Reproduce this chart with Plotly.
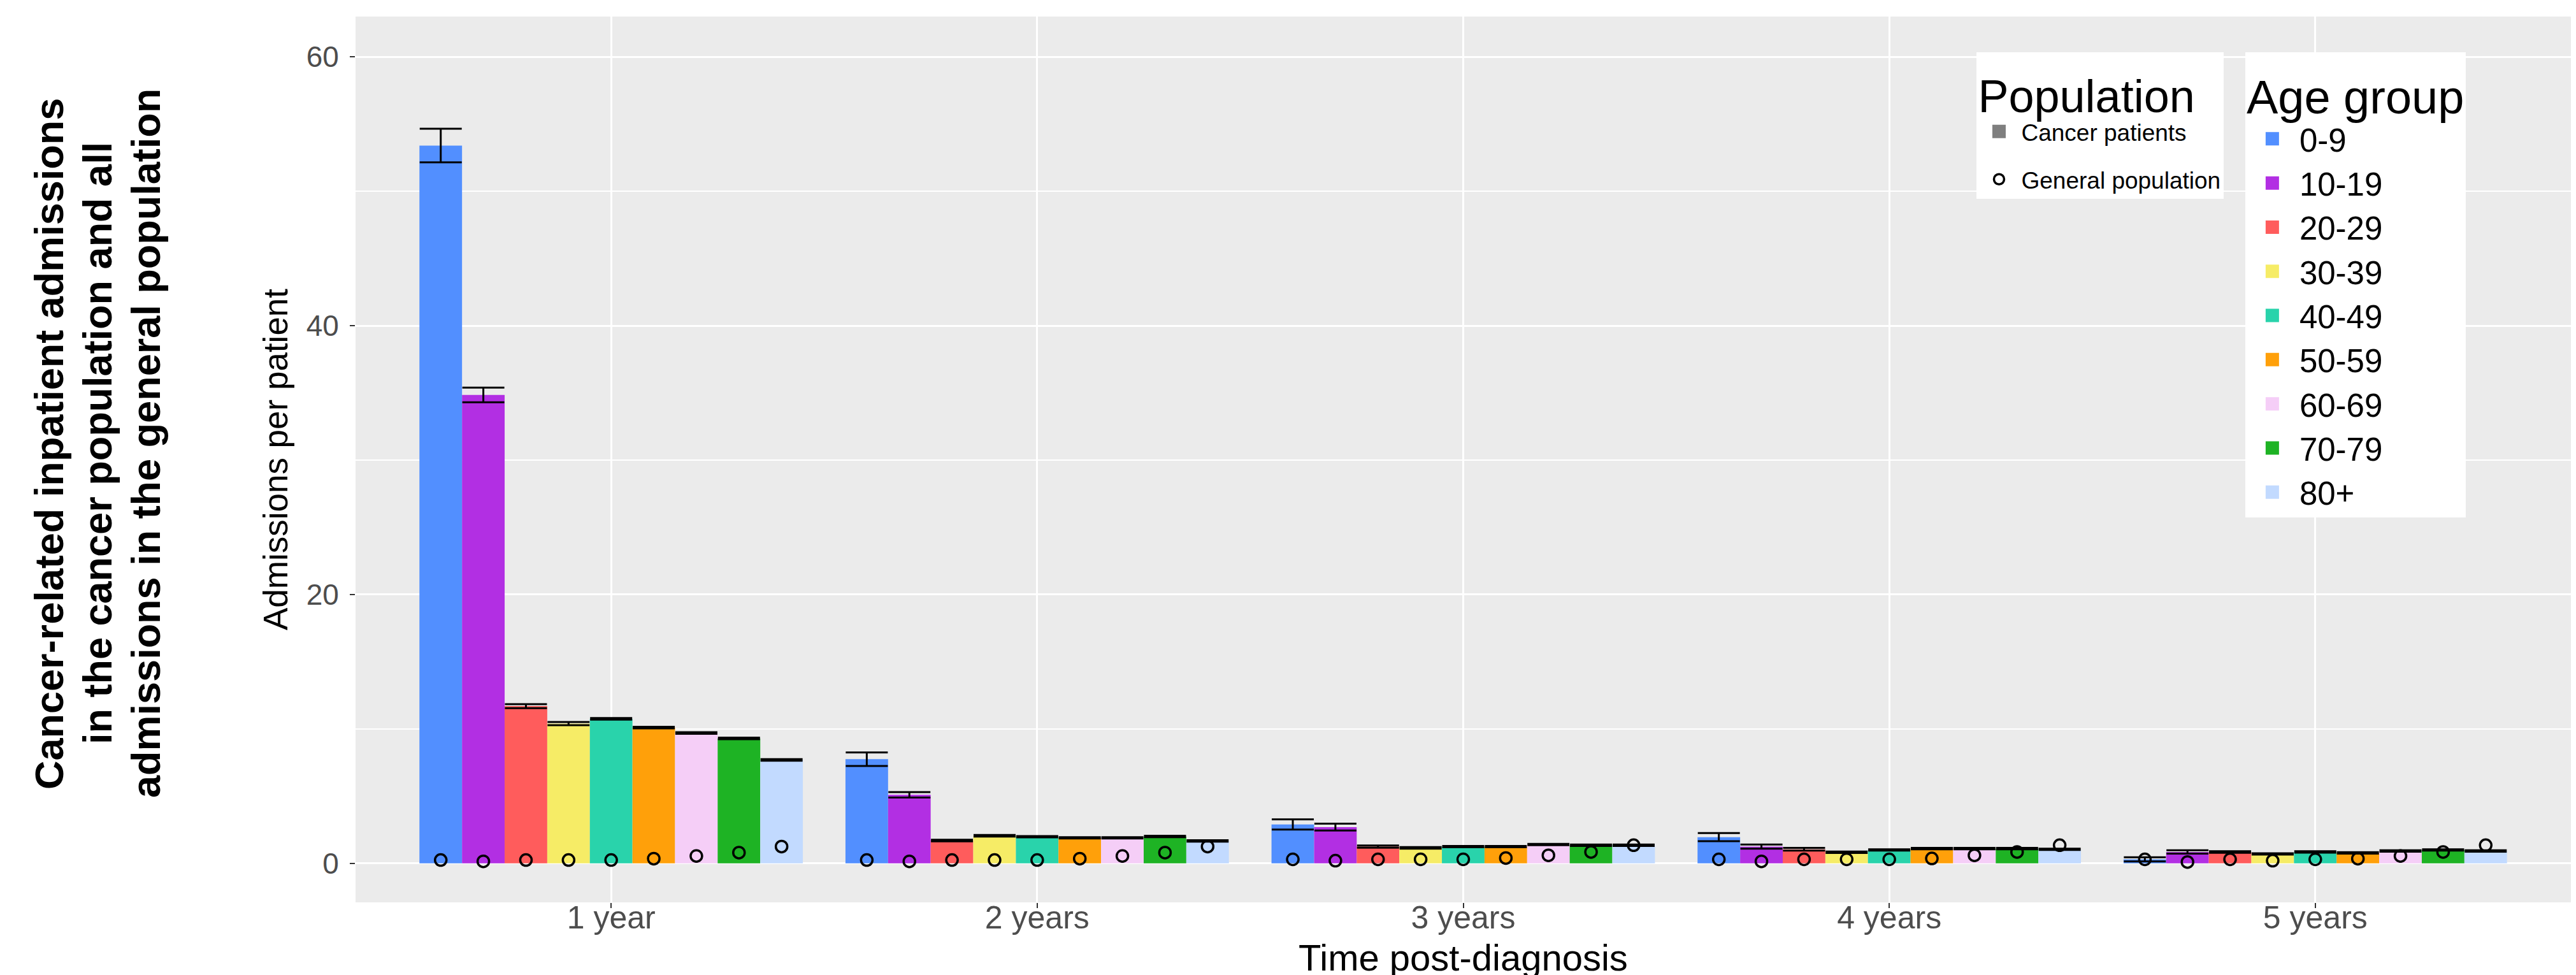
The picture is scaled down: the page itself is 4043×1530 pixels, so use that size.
import plotly.graph_objects as go

# ---------------- data ----------------
years = ["1 year", "2 years", "3 years", "4 years", "5 years"]
age_groups = ["0-9", "10-19", "20-29", "30-39", "40-49", "50-59", "60-69", "70-79", "80+"]
age_colors = ["#528FFF", "#B22FE3", "#FF5C5C", "#F6EC66", "#29D3AB",
              "#FFA00A", "#F5CEF7", "#1EB324", "#C2DAFF"]

# cancer-related admissions per patient (cancer population), by age group over years 1..5
cancer_0_9 = [53.4, 7.75, 2.9, 1.95, 0.30]
cancer_10_19 = [34.85, 5.1, 2.7, 1.25, 0.85]
cancer_20_29 = [11.7, 1.7, 1.25, 1.05, 0.85]
cancer_30_39 = [10.4, 2.05, 1.15, 0.83, 0.70]
cancer_40_49 = [10.75, 1.98, 1.25, 1.0, 0.85]
cancer_50_59 = [10.1, 1.9, 1.25, 1.1, 0.78]
cancer_60_69 = [9.7, 1.9, 1.4, 1.1, 0.92]
cancer_70_79 = [9.3, 2.0, 1.35, 1.1, 1.0]
cancer_80p = [7.7, 1.67, 1.35, 1.05, 0.92]

# error bar half-widths
err_0_9 = [1.25, 0.5, 0.38, 0.3, 0.15]
err_10_19 = [0.55, 0.2, 0.25, 0.15, 0.12]
err_20_29 = [0.15, 0.06, 0.08, 0.1, 0.06]
err_30_39 = [0.12, 0.06, 0.06, 0.05, 0.05]
err_40_49 = [0.06, 0.05, 0.05, 0.05, 0.05]
err_50_59 = [0.06, 0.05, 0.05, 0.05, 0.05]
err_60_69 = [0.06, 0.05, 0.05, 0.05, 0.05]
err_70_79 = [0.06, 0.05, 0.05, 0.05, 0.05]
err_80p = [0.06, 0.05, 0.05, 0.05, 0.05]

# all admissions per person in the general population
gen_0_9 = [0.25, 0.25, 0.3, 0.3, 0.3]
gen_10_19 = [0.15, 0.15, 0.2, 0.15, 0.1]
gen_20_29 = [0.25, 0.25, 0.3, 0.3, 0.3]
gen_30_39 = [0.25, 0.25, 0.3, 0.3, 0.2]
gen_40_49 = [0.25, 0.25, 0.3, 0.3, 0.3]
gen_50_59 = [0.35, 0.35, 0.4, 0.37, 0.35]
gen_60_69 = [0.55, 0.55, 0.6, 0.6, 0.55]
gen_70_79 = [0.8, 0.8, 0.85, 0.85, 0.85]
gen_80p = [1.25, 1.25, 1.35, 1.35, 1.35]

y_ticks = [0, 20, 40, 60]

title_lines = ["Cancer-related inpatient admissions",
               "in the cancer population and all",
               "admissions in the general population"]
x_title = "Time post-diagnosis"

cancer = [cancer_0_9, cancer_10_19, cancer_20_29, cancer_30_39, cancer_40_49,
          cancer_50_59, cancer_60_69, cancer_70_79, cancer_80p]
errors = [err_0_9, err_10_19, err_20_29, err_30_39, err_40_49,
          err_50_59, err_60_69, err_70_79, err_80p]
general = [gen_0_9, gen_10_19, gen_20_29, gen_30_39, gen_40_49,
           gen_50_59, gen_60_69, gen_70_79, gen_80p]

FONT = "Liberation Sans, Arial, sans-serif"

fig = go.Figure()

# bars (cancer patients), one per age group
for ag, col, vals, err in zip(age_groups, age_colors, cancer, errors):
    fig.add_trace(go.Bar(
        x=years, y=vals, name=ag, marker=dict(color=col, line=dict(width=0)),
        offsetgroup=ag, legendgroup=ag, showlegend=False,
        error_y=dict(type="data", array=err, visible=True, color="black",
                     thickness=3, width=33),
    ))

# legend keys for age groups (large square swatches)
for ag, col in zip(age_groups, age_colors):
    fig.add_trace(go.Scatter(
        x=[None], y=[None], mode="markers", name=ag,
        marker=dict(symbol="square", size=16, color=col, line=dict(color=col, width=5)),
        offsetgroup=ag, legendgroup=ag, legend="legend2",
    ))

# legend key for cancer patients
fig.add_trace(go.Scatter(
    x=[None], y=[None], mode="markers", name="Cancer patients",
    marker=dict(symbol="square", size=16, color="#7F7F7F", line=dict(color="#7F7F7F", width=5)),
    offsetgroup=age_groups[0], legend="legend", legendgroup="cancer",
))

# general population points
for i, (ag, vals) in enumerate(zip(age_groups, general)):
    fig.add_trace(go.Scatter(
        x=years, y=vals, mode="markers", name="General population",
        marker=dict(symbol="circle-open", size=18, color="black", line=dict(width=3.5)),
        offsetgroup=ag, legend="legend", legendgroup="general", showlegend=(i == 0),
    ))

title_x_px = [69, 145, 221]
annotations = [
    dict(text="<b>%s</b>" % line, xref="paper", yref="paper",
         x=(px - 550) / 3477, y=0.518, xanchor="center", yanchor="middle",
         textangle=-90, showarrow=False,
         font=dict(size=63, color="black", family=FONT))
    for line, px in zip(title_lines, title_x_px)
]
annotations.append(dict(
    text=x_title, xref="paper", yref="paper", x=0.5, y=-0.062,
    xanchor="center", yanchor="middle", showarrow=False,
    font=dict(size=58, color="black", family=FONT),
))

fig.update_layout(
    width=4043, height=1530,
    margin=dict(l=550, r=16, t=18, b=122),
    paper_bgcolor="white", plot_bgcolor="#EBEBEB",
    barmode="group", bargap=0.1, bargroupgap=0,
    scattermode="group", scattergap=0.1,
    font=dict(family=FONT, color="black"),
    showlegend=True,
    legend=dict(
        title=dict(text="Population", font=dict(size=72, color="black")),
        font=dict(size=37, color="black"),
        x=0.7318, y=0.9597, xanchor="left", yanchor="top",
        bgcolor="white", borderwidth=0, traceorder="grouped",
        itemwidth=60, tracegroupgap=24,
    ),
    legend2=dict(
        title=dict(text="Age group", font=dict(size=74, color="black")),
        font=dict(size=51, color="black"),
        x=0.8530, y=0.9597, xanchor="left", yanchor="top",
        bgcolor="white", borderwidth=0, traceorder="normal",
        itemwidth=75,
    ),
    xaxis=dict(
        type="category", range=[-0.6, 4.6], automargin=False,
        showgrid=True, gridcolor="white", gridwidth=2.5,
        ticks="outside", ticklen=8, tickwidth=2, tickcolor="#333333",
        tickfont=dict(size=50, color="#4D4D4D"), ticklabelstandoff=-28,
        zeroline=False, showline=False,
    ),
    yaxis=dict(
        range=[-2.9, 63.0], tickvals=y_ticks, automargin=False,
        showgrid=True, gridcolor="white", gridwidth=3,
        minor=dict(dtick=10, tick0=0, showgrid=True, gridcolor="white", gridwidth=1.5),
        ticks="outside", ticklen=8, tickwidth=2, tickcolor="#333333",
        tickfont=dict(size=46, color="#4D4D4D"), ticklabelstandoff=8,
        title=dict(text="Admissions per patient", font=dict(size=53, color="black"), standoff=12),
        zeroline=False, showline=False,
    ),
    annotations=annotations,
)

fig.write_html("out.html")
